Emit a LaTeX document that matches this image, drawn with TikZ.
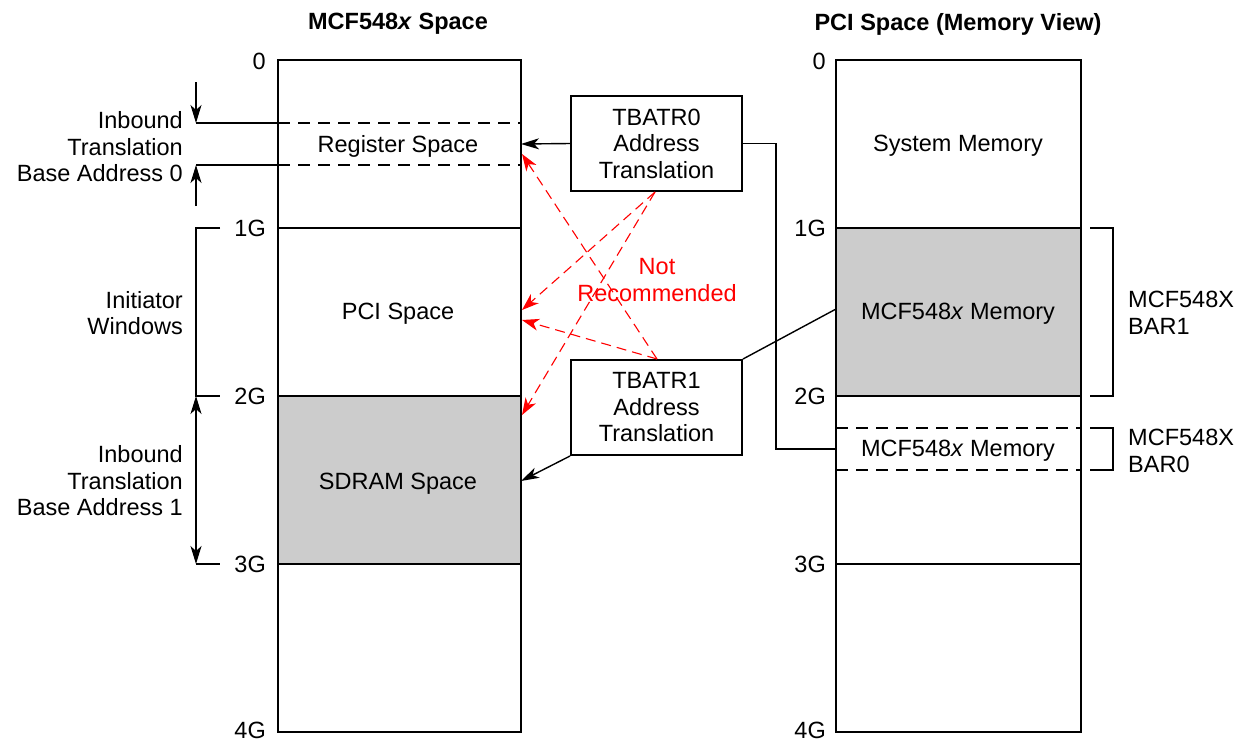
\documentclass[tikz,border=0pt]{standalone}
\usepackage{fontspec}
\setmainfont{Liberation Sans}
\usetikzlibrary{arrows.meta}
\begin{document}
\begin{tikzpicture}[x=1pt,y=-1pt,
  every node/.style={font=\fontsize{23.5}{26.5}\selectfont, inner sep=0pt},
  txt/.style={yshift=-2pt},
  colline/.style={line width=2pt},
  thinline/.style={line width=1.4pt},
  dashln/.style={line width=1.6pt, dash pattern=on 12pt off 8pt},
  blkarrow/.style={line width=1.4pt, -{Stealth[length=18pt,width=11pt,inset=5pt]}},
  redarrow/.style={red, line width=1.1pt, dash pattern=on 10pt off 6pt, -{Stealth[length=17pt,width=12pt,inset=5pt]}},
  tbox/.style={draw, line width=2pt, minimum width=171pt, minimum height=95pt, align=center},
  lbl/.style={align=right, anchor=east, txt},
  tick/.style={anchor=east}
]
\useasboundingbox (0,0) rectangle (1238,740);

% titles
\node (t1title) at (398,24) {\textbf{MCF548\textit{x} Space}};
\node (t2title) at (958,24) {\textbf{PCI Space (Memory View)}};

% left column
\fill[black!20] (278,396) rectangle (521,564);
\draw[colline] (278,60) rectangle (521,732);
\draw[colline] (278,228) -- (521,228) (278,396) -- (521,396) (278,564) -- (521,564);
\draw[dashln] (278,123) -- (521,123) (278,165) -- (521,165);

% right column
\fill[black!20] (836,228) rectangle (1081,396);
\draw[colline] (836,60) rectangle (1081,732);
\draw[colline] (836,228) -- (1081,228) (836,396) -- (1081,396) (836,564) -- (1081,564);
\draw[dashln] (836,428) -- (1081,428) (836,470) -- (1081,470);

% column texts
\node[txt] (reg) at (398,144) {Register Space};
\node[txt] (pci) at (398,312) {PCI Space};
\node[txt] (sdram) at (398,482) {SDRAM Space};
\node[txt] (sys) at (958,144) {System Memory};
\node[txt] (mem1) at (958,312) {MCF548\textit{x} Memory};
\node[txt] (mem0) at (958,449) {MCF548\textit{x} Memory};

% left ticks labels
\node[tick] (l0) at (266,61) {0};
\node[tick] (l1) at (266,228) {1G};
\node[tick] (l2) at (266,396) {2G};
\node[tick] (l3) at (266,564) {3G};
\node[tick] (l4) at (266,730) {4G};
\node[tick] (r0) at (826,61) {0};
\node[tick] (r1) at (826,228) {1G};
\node[tick] (r2) at (826,396) {2G};
\node[tick] (r3) at (826,564) {3G};
\node[tick] (r4) at (826,730) {4G};

% left annotations
\node[lbl] (ib0) at (183,145) {Inbound\\Translation\\Base Address 0};
\node[lbl] (iw) at (183,311) {Initiator\\Windows};
\node[lbl] (ib1) at (183,479) {Inbound\\Translation\\Base Address 1};

\coordinate (a0top) at (196,82);
\coordinate (a0a) at (196,123);
\coordinate (a0b) at (196,165);
\coordinate (a0bot) at (196,206);
\draw[blkarrow] (a0top) -- (a0a);
\draw[thinline] (a0a) -- (278,123);
\draw[blkarrow] (a0bot) -- (a0b);
\draw[thinline] (a0b) -- (278,165);

\draw[thinline] (220,228) -- (196,228) -- (196,396) -- (220,396);
\draw[thinline] (196,564) -- (220,564);
\draw[thinline, {Stealth[length=18pt,width=11pt,inset=5pt]}-{Stealth[length=18pt,width=11pt,inset=5pt]}] (196,396) -- (196,564);

% right brackets
\draw[thinline] (1090,228) -- (1113,228) -- (1113,396) -- (1090,396);
\draw[thinline] (1090,428) -- (1113,428) -- (1113,470) -- (1090,470);
\node[anchor=west, align=left, txt] (bar1) at (1128,311) {MCF548X\\BAR1};
\node[anchor=west, align=left, txt] (bar0) at (1128,449) {MCF548X\\BAR0};

% translation boxes
\node[tbox] (tb0) at (656.5,143.5) {TBATR0\\Address\\Translation};
\node[tbox] (tb1) at (656.5,407.5) {TBATR1\\Address\\Translation};

% connectors
\coordinate (regin) at (521,144);
\coordinate (sdin) at (521,481);
\coordinate (mem0in) at (836,449);
\coordinate (mem1in) at (836,309);
\draw[blkarrow] (tb0.west) -- (regin);
\draw[blkarrow] (tb1.south west) -- (sdin);
\draw[thinline] (tb0.east) -| (776,449) -- (mem0in);
\draw[thinline] (tb1.north east) -- (mem1in);

% not recommended
\coordinate (r0s) at (655,192);
\coordinate (r1s) at (657,359);
\coordinate (pciA) at (522,310);
\coordinate (pciB) at (522,320);
\coordinate (sdA) at (522,415);
\coordinate (regA) at (522,154);
\draw[redarrow] (r0s) -- (pciA);
\draw[redarrow] (r0s) -- (sdA);
\draw[redarrow] (r1s) -- (regA);
\draw[redarrow] (r1s) -- (pciB);
\node[red, align=center, txt] (nr) at (657,278) {Not\\Recommended};
\end{tikzpicture}
\end{document}
